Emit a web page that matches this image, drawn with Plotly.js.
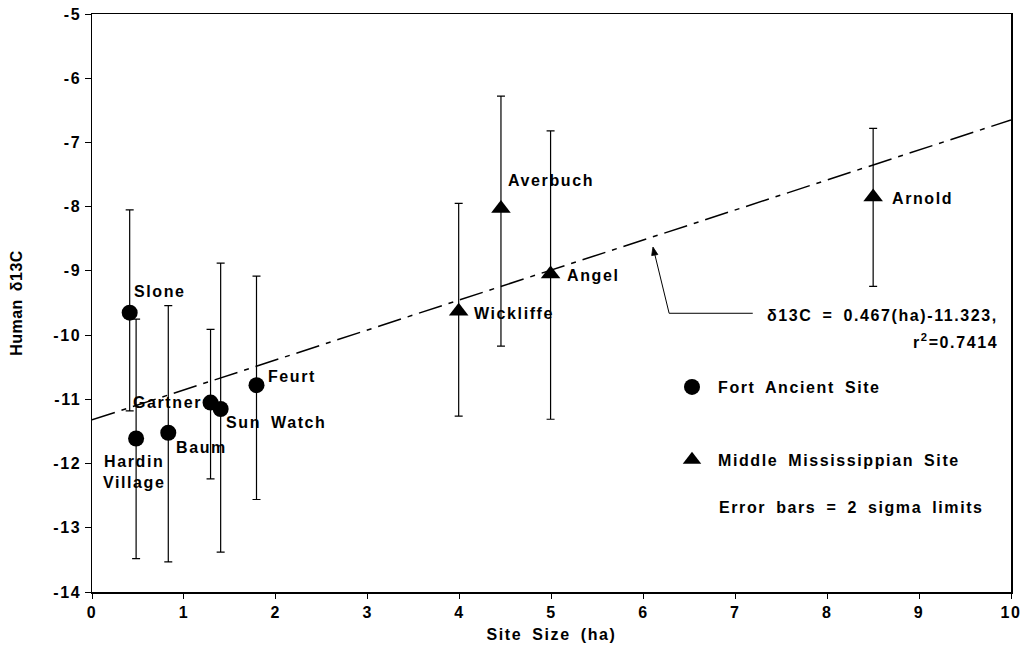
<!DOCTYPE html>
<html>
<head>
<meta charset="utf-8">
<script src="https://cdn.plot.ly/plotly-3.0.1.min.js"></script>
<style>
  html, body { margin: 0; padding: 0; background: #fff; }
  text { letter-spacing: 1.6px; word-spacing: 4px; }
  .ytitle { letter-spacing: 0.5px !important; word-spacing: 3px !important; }
</style>
</head>
<body>
<div id="chart" style="width:1026px;height:661px;"></div>
<script>
// ---- Data ----
// Fort Ancient sites (circles)
const faNames   = ['Slone', 'Hardin<br>Village', 'Baum', 'Gartner', 'Sun Watch', 'Feurt'];
const faSize    = [0.41, 0.48, 0.83, 1.29, 1.40, 1.79];
const faD13C    = [-9.65, -11.61, -11.52, -11.05, -11.15, -10.78];
const faErrUp   = [1.60, 1.86, 1.98, 1.14, 2.27, 1.70];
const faErrDown = [1.53, 1.87, 2.01, 1.19, 2.23, 1.78];

// Middle Mississippian sites (triangles)
const mmNames   = ['Wickliffe', 'Averbuch', 'Angel', 'Arnold'];
const mmSize    = [3.99, 4.45, 4.99, 8.50];
const mmD13C    = [-9.63, -8.03, -9.05, -7.85];
const mmErrUp   = [1.68, 1.75, 2.23, 1.07];
const mmErrDown = [1.63, 2.14, 2.26, 1.39];

// Regression line end points (δ13C = 0.467(ha) - 11.323)
const fitX = [0, 10];
const fitY = [-11.32, -6.65];

// Tick labels
const xTickVals = [0, 1, 2, 3, 4, 5, 6, 7, 8, 9, 10];
const xTickText = ['0', '1', '2', '3', '4', '5', '6', '7', '8', '9', '10'];
const yTickVals = [-14, -13, -12, -11, -10, -9, -8, -7, -6, -5];
const yTickText = ['-14', '-13', '-12', '-11', '-10', '-9', '-8', '-7', '-6', '-5'];

// ---- Styling ----
const FONT = 'Liberation Sans, Arial, Helvetica, sans-serif';
const baseFont = {family: FONT, size: 16, color: '#000', weight: 'bold'};

// Label placement (pixel offsets from each point)
const faLabelPos = {
  'Slone':            {xanchor: 'left',   yanchor: 'middle', xshift: 2,   yshift: 21},
  'Hardin<br>Village':{xanchor: 'center', yanchor: 'middle', xshift: -2,  yshift: -33},
  'Baum':             {xanchor: 'left',   yanchor: 'middle', xshift: 6,   yshift: -15},
  'Gartner':          {xanchor: 'right',  yanchor: 'middle', xshift: -7,  yshift: 0},
  'Sun Watch':        {xanchor: 'left',   yanchor: 'middle', xshift: 3,   yshift: -14},
  'Feurt':            {xanchor: 'left',   yanchor: 'middle', xshift: 9,   yshift: 9}
};
const mmLabelPos = {
  'Wickliffe': {xanchor: 'left', yanchor: 'middle', xshift: 13, yshift: -2},
  'Averbuch':  {xanchor: 'left', yanchor: 'middle', xshift: 5,  yshift: 28},
  'Angel':     {xanchor: 'left', yanchor: 'middle', xshift: 14, yshift: -1},
  'Arnold':    {xanchor: 'left', yanchor: 'middle', xshift: 17, yshift: -1}
};

const errStyle = {type: 'data', symmetric: false, color: '#000', thickness: 1.2, width: 4};

const traces = [
  {
    x: fitX, y: fitY, type: 'scatter', mode: 'lines',
    line: {color: '#000', width: 1.5, dash: '24px,7px,5px,7px'},
    showlegend: false, hoverinfo: 'skip'
  },
  {
    x: faSize, y: faD13C, type: 'scatter', mode: 'markers',
    marker: {symbol: 'circle', size: 16, color: '#000'},
    error_y: Object.assign({array: faErrUp, arrayminus: faErrDown}, errStyle),
    showlegend: false, text: faNames
  },
  {
    x: mmSize, y: mmD13C, type: 'scatter', mode: 'markers',
    marker: {symbol: 'triangle-up', size: 17, color: '#000'},
    error_y: Object.assign({array: mmErrUp, arrayminus: mmErrDown}, errStyle),
    showlegend: false, text: mmNames
  },
  // legend entries
  {
    x: [null], y: [null], type: 'scatter', mode: 'markers', name: 'Fort Ancient Site',
    marker: {symbol: 'circle', size: 16, color: '#000'}, legendgroup: 'fa'
  },
  {
    x: [null], y: [null], type: 'scatter', mode: 'markers', name: 'Middle Mississippian Site',
    marker: {symbol: 'triangle-up', size: 16, color: '#000'}, legendgroup: 'mm'
  }
];

const annotations = [];
faNames.forEach((n, i) => {
  const p = faLabelPos[n];
  annotations.push(Object.assign({
    x: faSize[i], y: faD13C[i], xref: 'x', yref: 'y', text: n, showarrow: false,
    align: 'center', font: baseFont
  }, p));
});
mmNames.forEach((n, i) => {
  const p = mmLabelPos[n];
  annotations.push(Object.assign({
    x: mmSize[i], y: mmD13C[i], xref: 'x', yref: 'y', text: n, showarrow: false,
    font: baseFont
  }, p));
});

// equation, r² and error-bar note
annotations.push({
  x: 9.88, y: -9.70, xref: 'x', yref: 'y', xanchor: 'right', yanchor: 'middle',
  text: 'δ13C = 0.467(ha)-11.323,', showarrow: false, font: baseFont
});
annotations.push({
  x: 9.88, y: -10.09, xref: 'x', yref: 'y', xanchor: 'right', yanchor: 'middle',
  text: 'r<sup>2</sup>=0.7414', showarrow: false, font: baseFont
});
annotations.push({
  x: 6.80, y: -12.69, xref: 'x', yref: 'y', xanchor: 'left', yanchor: 'middle',
  text: 'Error bars = 2 sigma limits', showarrow: false, font: baseFont
});

// connector from the equation to the regression line, with a small arrowhead
const shapes = [
  {
    type: 'path', xref: 'x', yref: 'y',
    path: 'M 7.19,-9.66 L 6.28,-9.66 L 6.115,-8.69',
    line: {color: '#000', width: 1}
  },
  {
    type: 'path', xref: 'x', yref: 'y',
    path: 'M 6.104,-8.629 L 6.157,-8.745 L 6.090,-8.762 Z',
    fillcolor: '#000', line: {color: '#000', width: 0.8}
  }
];

const layout = {
  width: 1026, height: 661,
  margin: {l: 92, r: 15, t: 14, b: 69, pad: 0},
  paper_bgcolor: '#fff', plot_bgcolor: '#fff',
  font: baseFont,
  showlegend: true,
  legend: {
    x: 0.6246, y: 0.384, xanchor: 'left', yanchor: 'top',
    bgcolor: 'rgba(0,0,0,0)', borderwidth: 0,
    font: baseFont, itemwidth: 42,
    traceorder: 'grouped', tracegroupgap: 49
  },
  xaxis: {
    range: [0, 10], tickvals: xTickVals, ticktext: xTickText,
    ticks: 'outside', ticklen: 5, tickwidth: 1, tickcolor: '#000',
    showline: true, linecolor: '#000', linewidth: 1.5, mirror: true,
    showgrid: false, zeroline: false,
    tickfont: baseFont,
    title: {text: 'Site Size (ha)', font: baseFont, standoff: 9}
  },
  yaxis: {
    range: [-14, -5], tickvals: yTickVals, ticktext: yTickText,
    ticks: 'outside', ticklen: 6, tickwidth: 1, tickcolor: '#000',
    showline: true, linecolor: '#000', linewidth: 1.5, mirror: true,
    showgrid: false, zeroline: false,
    tickfont: baseFont,
    title: {text: 'Human δ13C', font: baseFont, standoff: 27}
  },
  annotations: annotations,
  shapes: shapes
};

Plotly.newPlot('chart', traces, layout, {displayModeBar: false, staticPlot: true});
</script>
</body>
</html>
